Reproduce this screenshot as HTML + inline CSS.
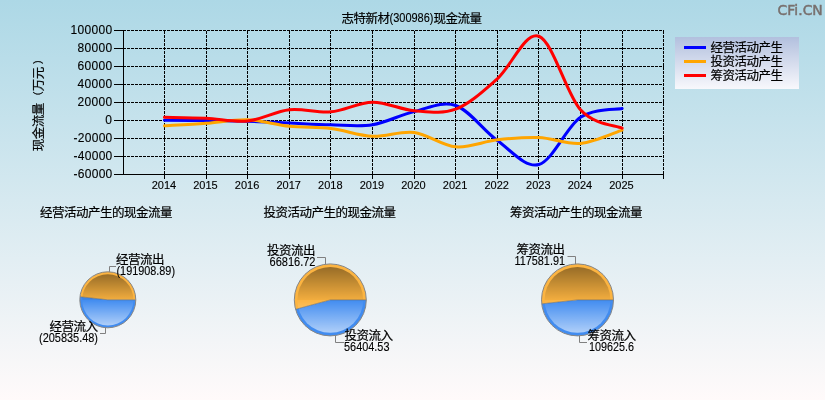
<!DOCTYPE html>
<html lang="zh-CN"><head><meta charset="utf-8"><title>志特新材(300986)现金流量</title>
<style>
html,body{margin:0;padding:0;background:#fff;}
body{width:825px;height:400px;overflow:hidden;}
svg{display:block;}
text{font-family:"Liberation Sans","Noto Sans CJK SC",sans-serif;fill:#000;stroke:#000;stroke-width:0.2px;}
.c{font-size:12.5px;letter-spacing:-0.5px;text-spacing-trim:space-all;}
.n{stroke-width:0.12px;}
.grid{stroke:#000;stroke-width:1;stroke-dasharray:3 1;shape-rendering:crispEdges;fill:none;}
.axis{stroke:#000;stroke-width:1;shape-rendering:crispEdges;fill:none;}
.ser{fill:none;stroke-width:3;stroke-linecap:round;stroke-linejoin:round;}
.call{stroke:#808080;stroke-width:1;fill:none;}
</style></head><body>
<svg width="825" height="400" viewBox="0 0 825 400">
<defs>
<linearGradient id="bg" x1="0" y1="0" x2="0" y2="1"><stop offset="0" stop-color="#add8e6"/><stop offset="1" stop-color="#fffafa"/></linearGradient>
<linearGradient id="lg" x1="0" y1="0" x2="0" y2="1"><stop offset="0" stop-color="#b2c0de"/><stop offset="1" stop-color="#f8f8fc"/></linearGradient>
<linearGradient id="shade" x1="0" y1="0" x2="0" y2="1"><stop offset="0" stop-color="#000" stop-opacity="0.40"/><stop offset="0.5" stop-color="#000" stop-opacity="0.04"/><stop offset="0.5" stop-color="#fff" stop-opacity="0.0"/><stop offset="1" stop-color="#fff" stop-opacity="0.58"/></linearGradient>
</defs>
<rect x="0" y="0" width="825" height="400" fill="url(#bg)"/>
<text class="c" x="341.5" y="23">志特新材<tspan class="n" x="389.5" dy="-1" font-size="12" letter-spacing="0" textLength="44" lengthAdjust="spacingAndGlyphs">(300986)</tspan><tspan x="433.5" dy="1">现金流量</tspan></text>
<text x="777.6" y="14.8" font-size="14.5" textLength="45.2" lengthAdjust="spacingAndGlyphs" style="font-family:'DejaVu Sans','Liberation Sans',sans-serif;fill:#78706e;stroke:#78706e;stroke-width:0.5px">CFi.CN</text>
<path class="grid" d="M123.0 30.5H664.0M123.0 48.5H664.0M123.0 66.5H664.0M123.0 84.5H664.0M123.0 102.5H664.0M123.0 120.5H664.0M123.0 138.5H664.0M123.0 156.5H664.0M123.0 174.5H664.0M164.5 31.0V175.0M206.5 31.0V175.0M247.5 31.0V175.0M289.5 31.0V175.0M330.5 31.0V175.0M372.5 31.0V175.0M414.5 31.0V175.0M455.5 31.0V175.0M497.5 31.0V175.0M538.5 31.0V175.0M580.5 31.0V175.0M622.5 31.0V175.0M663.5 31.0V175.0"/>
<path class="axis" d="M123.5 30.0V175.0M123.0 174.5H664.0M114.0 30.5H124.0M114.0 48.5H124.0M114.0 66.5H124.0M114.0 84.5H124.0M114.0 102.5H124.0M114.0 120.5H124.0M114.0 138.5H124.0M114.0 156.5H124.0M114.0 174.5H124.0M164.5 174.0V179.0M206.5 174.0V179.0M247.5 174.0V179.0M289.5 174.0V179.0M330.5 174.0V179.0M372.5 174.0V179.0M414.5 174.0V179.0M455.5 174.0V179.0M497.5 174.0V179.0M538.5 174.0V179.0M580.5 174.0V179.0M622.5 174.0V179.0M663.5 174.0V179.0"/>
<text class="n" x="70.6" y="34.1" font-size="12" textLength="41.7" lengthAdjust="spacing">100000</text>
<text class="n" x="77.5" y="52.1" font-size="12" textLength="34.8" lengthAdjust="spacing">80000</text>
<text class="n" x="77.5" y="70.1" font-size="12" textLength="34.8" lengthAdjust="spacing">60000</text>
<text class="n" x="77.5" y="88.1" font-size="12" textLength="34.8" lengthAdjust="spacing">40000</text>
<text class="n" x="77.5" y="106.1" font-size="12" textLength="34.8" lengthAdjust="spacing">20000</text>
<text class="n" x="105.3" y="124.1" font-size="12" textLength="7.0" lengthAdjust="spacing">0</text>
<text class="n" x="73.5" y="142.1" font-size="12" textLength="38.8" lengthAdjust="spacing">-20000</text>
<text class="n" x="73.5" y="160.1" font-size="12" textLength="38.8" lengthAdjust="spacing">-40000</text>
<text class="n" x="73.5" y="178.1" font-size="12" textLength="38.8" lengthAdjust="spacing">-60000</text>
<text class="n" x="163.9" y="189.3" font-size="11" text-anchor="middle">2014</text>
<text class="n" x="205.5" y="189.3" font-size="11" text-anchor="middle">2015</text>
<text class="n" x="247.1" y="189.3" font-size="11" text-anchor="middle">2016</text>
<text class="n" x="288.7" y="189.3" font-size="11" text-anchor="middle">2017</text>
<text class="n" x="330.3" y="189.3" font-size="11" text-anchor="middle">2018</text>
<text class="n" x="371.9" y="189.3" font-size="11" text-anchor="middle">2019</text>
<text class="n" x="413.5" y="189.3" font-size="11" text-anchor="middle">2020</text>
<text class="n" x="455.1" y="189.3" font-size="11" text-anchor="middle">2021</text>
<text class="n" x="496.7" y="189.3" font-size="11" text-anchor="middle">2022</text>
<text class="n" x="538.3" y="189.3" font-size="11" text-anchor="middle">2023</text>
<text class="n" x="579.9" y="189.3" font-size="11" text-anchor="middle">2024</text>
<text class="n" x="621.5" y="189.3" font-size="11" text-anchor="middle">2025</text>
<text class="c" transform="translate(42.6,151.2) rotate(-90)">现金流量<tspan font-size="10.5" x="49.5" dy="-1">（</tspan><tspan x="60" dy="1">万元</tspan><tspan font-size="10.5" x="87" dy="-1">）</tspan></text>
<path class="ser" stroke="#0000ff" d="M164.50 120.14 C171.43 120.22 192.23 120.41 206.10 120.59 C219.97 120.77 233.83 120.81 247.70 121.22 C261.57 121.62 275.43 122.44 289.30 123.02 C303.17 123.60 317.03 124.45 330.90 124.73 C344.77 125.02 358.63 126.92 372.50 124.73 C386.37 122.54 400.23 114.80 414.10 111.59 C427.97 108.38 441.83 100.66 455.70 105.47 C469.57 110.28 483.43 130.64 497.30 140.48 C511.17 150.32 525.03 168.36 538.90 164.51 C552.77 160.66 566.63 126.68 580.50 117.35 C594.37 108.02 615.17 110.00 622.10 108.53"/>
<path class="ser" stroke="#ffa500" d="M164.50 125.81 C171.43 125.39 192.23 124.30 206.10 123.29 C219.97 122.29 233.83 119.28 247.70 119.78 C261.57 120.28 275.43 124.81 289.30 126.26 C303.17 127.72 317.03 126.84 330.90 128.51 C344.77 130.17 358.63 135.59 372.50 136.25 C386.37 136.91 400.23 130.72 414.10 132.47 C427.97 134.22 441.83 145.55 455.70 146.78 C469.57 148.01 483.43 141.39 497.30 139.85 C511.17 138.31 525.03 136.91 538.90 137.51 C552.77 138.11 566.63 144.68 580.50 143.45 C594.37 142.22 615.17 132.35 622.10 130.13"/>
<path class="ser" stroke="#ff0000" d="M164.50 117.35 C171.43 117.52 192.23 117.73 206.10 118.34 C219.97 118.95 233.83 122.43 247.70 121.00 C261.57 119.58 275.43 111.32 289.30 109.79 C303.17 108.26 317.03 113.09 330.90 111.81 C344.77 110.54 358.63 102.33 372.50 102.14 C386.37 101.95 400.23 109.52 414.10 110.69 C427.97 111.86 441.83 114.47 455.70 109.16 C469.57 103.85 483.43 90.98 497.30 78.83 C511.17 66.68 525.03 31.10 538.90 36.26 C552.77 41.42 566.63 94.48 580.50 109.79 C594.37 125.11 615.17 125.09 622.10 128.15"/>
<rect x="675" y="37" width="124" height="52" fill="url(#lg)"/>
<rect x="684" y="46.0" width="22" height="3" fill="#0000ff"/>
<text class="c" x="710.5" y="52.0">经营活动产生</text>
<rect x="684" y="60.0" width="22" height="3" fill="#ffa500"/>
<text class="c" x="710.5" y="66.0">投资活动产生</text>
<rect x="684" y="74.0" width="22" height="3" fill="#ff0000"/>
<text class="c" x="710.5" y="80.0">筹资活动产生</text>
<text class="c" x="40.0" y="217.0">经营活动产生的现金流量</text>
<text class="c" x="263.5" y="217.0">投资活动产生的现金流量</text>
<text class="c" x="510.0" y="217.0">筹资活动产生的现金流量</text>
<path d="M107.80 299.80L135.80 299.80A28.00 28.00 0 1 1 79.97 296.73Z" fill="#418cf0"/>
<path d="M107.80 299.80L79.97 296.73A28.00 28.00 0 0 1 135.80 299.80Z" fill="#fcb441"/>
<circle cx="107.80" cy="299.80" r="25.62" fill="url(#shade)"/>
<path d="M79.97 296.73L107.80 299.80L135.80 299.80" fill="none" stroke="#6a6a6a" stroke-width="0.8" stroke-opacity="0.75"/>
<circle cx="107.80" cy="299.80" r="28.00" fill="none" stroke="#868686" stroke-width="1"/>
<path class="call" d="M109.5 271.8V266.5H116"/>
<text class="c" x="116.0" y="264.0">经营流出</text>
<text class="n" x="116.5" y="275.0" font-size="12" textLength="58.5" lengthAdjust="spacingAndGlyphs">(191908.89)</text>
<path class="call" d="M105.5 327.8V333.5H100"/>
<text class="c" x="49.5" y="331.0">经营流入</text>
<text class="n" x="39.0" y="342.0" font-size="12" textLength="59.0" lengthAdjust="spacingAndGlyphs">(205835.48)</text>
<path d="M330.30 299.90L366.30 299.90A36.00 36.00 0 0 1 295.56 309.34Z" fill="#418cf0"/>
<path d="M330.30 299.90L295.56 309.34A36.00 36.00 0 1 1 366.30 299.90Z" fill="#fcb441"/>
<circle cx="330.30" cy="299.90" r="32.94" fill="url(#shade)"/>
<path d="M295.56 309.34L330.30 299.90L366.30 299.90" fill="none" stroke="#6a6a6a" stroke-width="0.8" stroke-opacity="0.75"/>
<circle cx="330.30" cy="299.90" r="36.00" fill="none" stroke="#868686" stroke-width="1"/>
<path class="call" d="M325.5 264.2V257.5H317"/>
<text class="c" x="267.0" y="254.5">投资流出</text>
<text class="n" x="269.5" y="265.8" font-size="12" textLength="46.0" lengthAdjust="spacingAndGlyphs">66816.72</text>
<path class="call" d="M335.5 335.6V342.5H344"/>
<text class="c" x="344.5" y="340.0">投资流入</text>
<text class="n" x="344.0" y="350.5" font-size="12" textLength="45.5" lengthAdjust="spacingAndGlyphs">56404.53</text>
<path d="M577.50 299.90L613.50 299.90A36.00 36.00 0 0 1 541.72 303.85Z" fill="#418cf0"/>
<path d="M577.50 299.90L541.72 303.85A36.00 36.00 0 1 1 613.50 299.90Z" fill="#fcb441"/>
<circle cx="577.50" cy="299.90" r="32.94" fill="url(#shade)"/>
<path d="M541.72 303.85L577.50 299.90L613.50 299.90" fill="none" stroke="#6a6a6a" stroke-width="0.8" stroke-opacity="0.75"/>
<circle cx="577.50" cy="299.90" r="36.00" fill="none" stroke="#868686" stroke-width="1"/>
<path class="call" d="M575.5 264.0V256.5H567.5"/>
<text class="c" x="516.5" y="253.5">筹资流出</text>
<text class="n" x="514.5" y="265.0" font-size="12" textLength="50.5" lengthAdjust="spacingAndGlyphs">117581.91</text>
<path class="call" d="M579.5 335.8V342.5H587"/>
<text class="c" x="587.5" y="340.0">筹资流入</text>
<text class="n" x="589.0" y="350.5" font-size="12" textLength="45.0" lengthAdjust="spacingAndGlyphs">109625.6</text>
</svg></body></html>
